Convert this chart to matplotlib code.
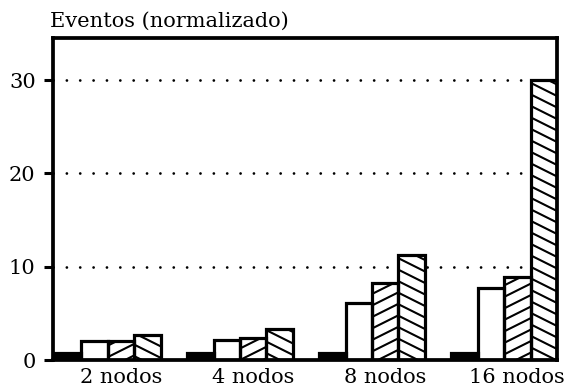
import numpy as np
import matplotlib
matplotlib.use("Agg")
import matplotlib.pyplot as plt
from matplotlib.collections import LineCollection
from matplotlib.transforms import IdentityTransform

plt.rcParams["font.family"] = "DejaVu Serif"

# events per configuration, normalized
groups = ["2 nodos", "4 nodos", "8 nodos", "16 nodos"]
solid = [0.7, 0.7, 0.7, 0.7]
plain = [2.0, 2.1, 6.1, 7.7]
sparse = [2.0, 2.4, 8.3, 8.9]
dense = [2.7, 3.3, 11.2, 30.0]
yticks = [0, 10, 20, 30]


def hatch_bars(ax, bars, slope, step, phase, lw=1.5):
    # diagonal hatching drawn in pixel space so the angle is independent of the data scale
    for b in bars:
        (x0, y0), (x1, y1) = ax.transData.transform(
            [(b.get_x(), b.get_y()), (b.get_x() + b.get_width(), b.get_y() + b.get_height())])
        cs = [yy - slope * xx for xx in (x0, x1) for yy in (y0, y1)]
        ks = np.arange(np.floor((min(cs) - phase) / step) - 1, np.ceil((max(cs) - phase) / step) + 2)
        segs = [[(x0, slope * x0 + phase + k * step), (x1, slope * x1 + phase + k * step)] for k in ks]
        lc = LineCollection(segs, colors="black", linewidths=lw, transform=IdentityTransform(), zorder=2.5)
        ax.add_collection(lc, autolim=False)
        # add_collection sets the axes patch as clip, so clip to the bar afterwards
        lc.set_clip_path(b)


fig = plt.figure(figsize=(5.68, 3.91), dpi=100)
ax = fig.add_axes([53 / 568, 31 / 391, 504 / 568, 322 / 391])

x = np.arange(len(groups))
w = 0.2
ax.set_xlim(-0.415, 3.4)
ax.set_ylim(0, 34.5)

for yv in yticks[1:]:
    ax.axhline(yv, color="black", lw=2, linestyle=(0, (0.01, 4.8)), dash_capstyle="round", zorder=1)

series = [solid, plain, sparse, dense]
faces = ["black", "white", "white", "white"]
face_bars = []
for i, (vals, fc) in enumerate(zip(series, faces)):
    pos = x - 0.3 + i * w
    face_bars.append(ax.bar(pos, vals, w, color=fc, edgecolor="none", zorder=2))
    ax.bar(pos, vals, w, fill=False, edgecolor="black", linewidth=2.3, zorder=3)

hatch_bars(ax, face_bars[2], 0.5, 11.5, 3)
hatch_bars(ax, face_bars[3], -0.5, 11.5, 700)

for s in ax.spines.values():
    s.set_linewidth(2.7)
    s.set_zorder(4)

ax.set_yticks(yticks)
ax.set_xticks(x + 0.1)
ax.set_xticklabels(groups)
ax.tick_params(axis="y", length=6.5, width=2.2, pad=6, labelsize=15)
ax.tick_params(axis="x", length=0, pad=6, labelsize=15)

fig.text(50 / 568, 1 - 27 / 391, "Eventos (normalizado)", fontsize=15, va="baseline", ha="left")

fig.savefig("out.png", dpi=100)
